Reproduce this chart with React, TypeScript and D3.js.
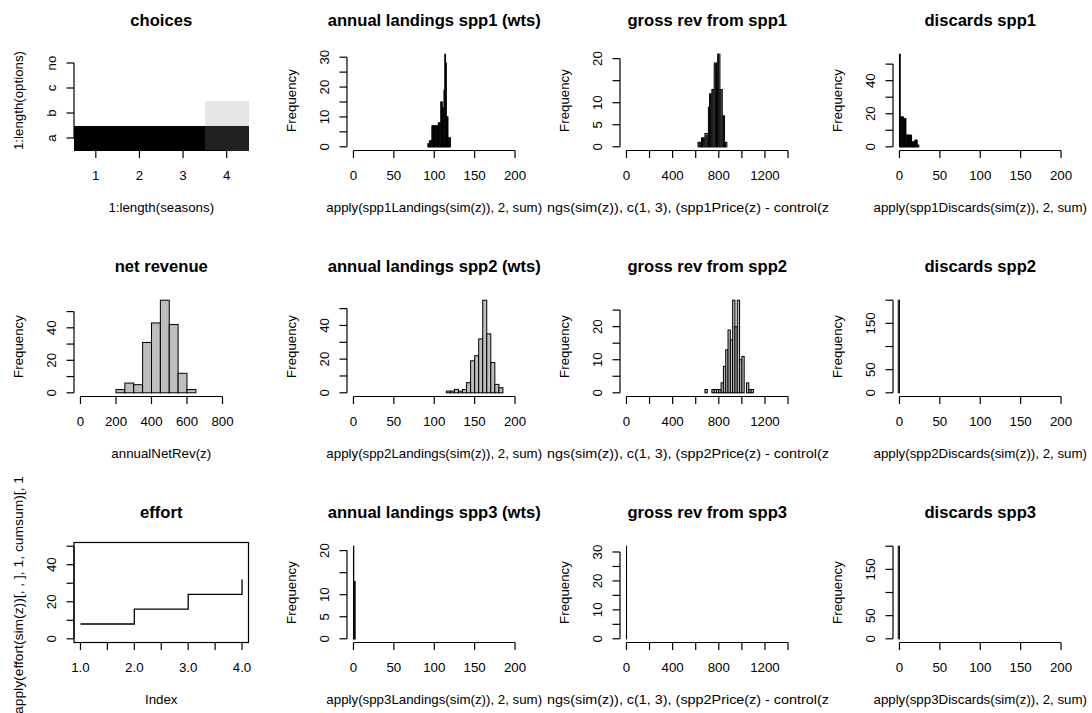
import React from "react";
import * as d3 from "d3";

// ---- data ----
const seasons = [1, 2, 3, 4];
const options = ["a", "b", "c", "no"];
// share choosing each option (a, b, c, no) in each season
const choiceShare = [
  [1, 0, 0, 0],
  [1, 0, 0, 0],
  [1, 0, 0, 0],
  [0.87, 0.1, 0, 0],
];

const effortIndex = [1, 2, 3, 4];
const effortCum = [8, 16, 24, 32];

const spp1LandBreaks = d3.range(92, 120.5, 1);
const spp1LandCounts = [1, 1, 2, 2, 2, 7, 7, 7, 7, 7, 7, 7, 7, 8, 8, 8, 15, 15, 13, 13, 19, 31, 28, 10, 10, 3, 3, 3];

const spp1RevBreaks = d3.range(620, 871, 10);
const spp1RevCounts = [1, 1, 1, 2, 2, 2, 3, 3, 3, 9, 12, 12, 13, 13, 19, 19, 17, 21, 21, 13, 13, 7, 7, 1, 1];

const spp1DiscBreaks = d3.range(0, 24.5, 1);
const spp1DiscCounts = [56, 18, 18, 18, 18, 17, 17, 17, 7, 7, 7, 7, 7, 7, 7, 3, 3, 3, 3, 4, 4, 4, 1, 1];

const netRevBreaks = d3.range(200, 651, 50);
const netRevCounts = [2, 6, 5, 31, 43, 57, 42, 12, 2];

const spp2LandBreaks = d3.range(115, 186, 5);
const spp2LandCounts = [1, 1, 2, 1, 2, 6, 19, 22, 32, 55, 35, 18, 5, 3];

const spp2RevBreaks = d3.range(680, 1101, 20);
const spp2RevCounts = [1, 0, 0, 1, 1, 1, 1, 3, 8, 13, 19, 16, 28, 20, 28, 10, 11, 0, 3, 1, 1];

const spp2DiscBreaks = [-1.5, 0];
const spp2DiscCounts = [200];

const spp3LandBreaks = [0, 0.4, 0.8, 1.2, 1.6, 2.0];
const spp3LandCounts = [21, 13, 13, 13, 13];

const spp3RevBreaks = [0, 0.8];
const spp3RevCounts = [32];

const spp3DiscBreaks = [-1.5, 0];
const spp3DiscCounts = [200];

const landTicks = [0, 50, 100, 150, 200];
const revTicks = d3.range(0, 1401, 200);
const revLabels = [0, 400, 800, 1200];
const netRevTicks = d3.range(0, 801, 200);

// ---- layout ----
const W = 1092;
const H = 713;
const COL_W = 273;
const ROW_H = 246;
const PL = 74;
const PR = 248.5;
const PT = 50.5;
const PB = 150.5;
const CX = (PL + PR) / 2;
const FONT = "'Liberation Sans', Arial, Helvetica, sans-serif";
const FS = 13.3;
const TICK = 7.5;

function pad([lo, hi]: number[]) {
  const d = (hi - lo) * 0.04;
  return [lo - d, hi + d];
}

function XAxis({ x, ticks, labels }: any) {
  const lab = labels ?? ticks;
  return (
    <g>
      <line x1={x(ticks[0])} x2={x(ticks[ticks.length - 1])} y1={PB} y2={PB} stroke="#000" strokeWidth={1.2} />
      {ticks.map((t: number) => (
        <line key={t} x1={x(t)} x2={x(t)} y1={PB} y2={PB + TICK} stroke="#000" strokeWidth={1.2} />
      ))}
      {lab.map((t: any, i: number) => (
        <text key={i} x={x(typeof t === "number" ? t : ticks[i])} y={PB + 24.5} fontSize={FS}
          textAnchor="middle" dominantBaseline="central">{t}</text>
      ))}
    </g>
  );
}

function YAxis({ y, ticks, labels, names }: any) {
  return (
    <g>
      <line x1={PL} x2={PL} y1={y(ticks[0])} y2={y(ticks[ticks.length - 1])} stroke="#000" strokeWidth={1.2} />
      {ticks.map((t: number) => (
        <line key={t} x1={PL} x2={PL - TICK} y1={y(t)} y2={y(t)} stroke="#000" strokeWidth={1.2} />
      ))}
      {labels.map((t: number, i: number) => (
        <text key={i} transform={`translate(${PL - 23},${y(t)}) rotate(-90)`} fontSize={FS}
          textAnchor="middle" dominantBaseline="central">{names ? names[i] : t}</text>
      ))}
    </g>
  );
}

function Titles({ main, xlab, ylab, xlabStart, ylabShift, ylabLen }: any) {
  return (
    <g>
      <text x={CX} y={PT - 30} fontSize={16.6} fontWeight="bold" textAnchor="middle" dominantBaseline="central">{main}</text>
      {xlabStart ? (
        <text x={1} y={PB + 56.5} fontSize={FS} textAnchor="start" dominantBaseline="central"
          textLength={282} lengthAdjust="spacingAndGlyphs">{xlab}</text>
      ) : (
        <text x={CX} y={PB + 56.5} fontSize={FS} textAnchor="middle" dominantBaseline="central">{xlab}</text>
      )}
      <text transform={`translate(18.5,${(PT + PB) / 2 + (ylabShift || 0)}) rotate(-90)`} fontSize={FS}
        textAnchor="middle" dominantBaseline="central"
        {...(ylabLen ? { textLength: ylabLen, lengthAdjust: "spacingAndGlyphs" } : {})}>{ylab}</text>
    </g>
  );
}

function Hist({ cfg }: any) {
  const x = d3.scaleLinear().domain(pad(cfg.xlim)).range([PL, PR]);
  const y = d3.scaleLinear().domain(pad([0, d3.max(cfg.counts as number[])!])).range([PB, PT]);
  return (
    <g>
      {cfg.counts.map((c: number, i: number) => (
        c > 0 ? (
          <rect key={i} x={x(cfg.breaks[i])} y={y(c)} width={x(cfg.breaks[i + 1]) - x(cfg.breaks[i])}
            height={y(0) - y(c)} fill="#bebebe" stroke="#000" strokeWidth={1} />
        ) : null
      ))}
      <XAxis x={x} ticks={cfg.xTicks} labels={cfg.xLabels} />
      <YAxis y={y} ticks={cfg.yTicks} labels={cfg.yLabels} />
      <Titles main={cfg.main} xlab={cfg.xlab} ylab="Frequency" xlabStart={cfg.xlabStart} />
    </g>
  );
}

function Choices() {
  const x = d3.scaleLinear().domain([0.5, 4.5]).range([PL, PR]);
  const y = d3.scaleLinear().domain([0.5, 4.5]).range([PB, PT]);
  const shade = d3.scaleLinear<string>().domain([0, 1]).range(["#ffffff", "#000000"]);
  return (
    <g>
      <g shapeRendering="crispEdges">
        {seasons.map((s, i) =>
          options.map((o, j) => (
            <rect key={o + s} x={x(s - 0.5)} y={y(j + 1.5)} width={x(s + 0.5) - x(s - 0.5) + 0.5}
              height={y(j + 0.5) - y(j + 1.5)} fill={shade(choiceShare[i][j])} />
          ))
        )}
      </g>
      <XAxis x={x} ticks={seasons} />
      <YAxis y={y} ticks={[1, 2, 3, 4]} labels={[1, 2, 3, 4]} names={options} />
      <Titles main="choices" xlab="1:length(seasons)" ylab="1:length(options)" />
    </g>
  );
}

function Effort() {
  const x = d3.scaleLinear().domain(pad([1, 4])).range([PL, PR]);
  const y = d3.scaleLinear().domain(pad([0, 50])).range([PB, PT]);
  const pts = effortIndex.map((v, i) => [v, effortCum[i]] as [number, number]);
  // R's type "s": horizontal first, then vertical
  const stepPts: [number, number][] = [];
  pts.forEach((p, i) => {
    if (i > 0) stepPts.push([p[0], pts[i - 1][1]]);
    stepPts.push(p);
  });
  return (
    <g>
      <path d={d3.line().x((d) => x(d[0])).y((d) => y(d[1]))(stepPts)!} fill="none" stroke="#000" strokeWidth={1.3} />
      <rect x={PL} y={PT} width={PR - PL} height={PB - PT} fill="none" stroke="#000" strokeWidth={1.2} />
      <XAxis x={x} ticks={d3.range(1, 4.01, 0.5)} labels={["1.0", "", "2.0", "", "3.0", "", "4.0"]} />
      <YAxis y={y} ticks={d3.range(0, 51, 10)} labels={[0, 20, 40]} />
      <Titles main="effort" xlab="Index" ylab="apply(effort(sim(z))[, , ], 1, cumsum)[, 1" ylabShift={2.5} ylabLen={238} />
    </g>
  );
}

const hists: any[] = [
  { row: 0, col: 1, main: "annual landings spp1 (wts)", xlab: "apply(spp1Landings(sim(z)), 2, sum)",
    breaks: spp1LandBreaks, counts: spp1LandCounts, xlim: [0, 200], xTicks: landTicks,
    yTicks: d3.range(0, 31, 5), yLabels: [0, 10, 20, 30] },
  { row: 0, col: 2, main: "gross rev from spp1", xlab: "ngs(sim(z)), c(1, 3), (spp1Price(z) - control(z", xlabStart: true,
    breaks: spp1RevBreaks, counts: spp1RevCounts, xlim: [0, 1400], xTicks: revTicks, xLabels: revLabels,
    yTicks: d3.range(0, 21, 5), yLabels: [0, 5, 10, 20] },
  { row: 0, col: 3, main: "discards spp1", xlab: "apply(spp1Discards(sim(z)), 2, sum)",
    breaks: spp1DiscBreaks, counts: spp1DiscCounts, xlim: [0, 200], xTicks: landTicks,
    yTicks: d3.range(0, 51, 10), yLabels: [0, 20, 40] },
  { row: 1, col: 0, main: "net revenue", xlab: "annualNetRev(z)",
    breaks: netRevBreaks, counts: netRevCounts, xlim: [0, 910], xTicks: netRevTicks,
    yTicks: d3.range(0, 51, 10), yLabels: [0, 20, 40] },
  { row: 1, col: 1, main: "annual landings spp2 (wts)", xlab: "apply(spp2Landings(sim(z)), 2, sum)",
    breaks: spp2LandBreaks, counts: spp2LandCounts, xlim: [0, 200], xTicks: landTicks,
    yTicks: d3.range(0, 51, 10), yLabels: [0, 20, 40] },
  { row: 1, col: 2, main: "gross rev from spp2", xlab: "ngs(sim(z)), c(1, 3), (spp2Price(z) - control(z", xlabStart: true,
    breaks: spp2RevBreaks, counts: spp2RevCounts, xlim: [0, 1400], xTicks: revTicks, xLabels: revLabels,
    yTicks: d3.range(0, 26, 5), yLabels: [0, 10, 20] },
  { row: 1, col: 3, main: "discards spp2", xlab: "apply(spp2Discards(sim(z)), 2, sum)",
    breaks: spp2DiscBreaks, counts: spp2DiscCounts, xlim: [0, 200], xTicks: landTicks,
    yTicks: d3.range(0, 201, 50), yLabels: [0, 50, 150] },
  { row: 2, col: 1, main: "annual landings spp3 (wts)", xlab: "apply(spp3Landings(sim(z)), 2, sum)",
    breaks: spp3LandBreaks, counts: spp3LandCounts, xlim: [0, 200], xTicks: landTicks,
    yTicks: d3.range(0, 21, 5), yLabels: [0, 5, 10, 20] },
  { row: 2, col: 2, main: "gross rev from spp3", xlab: "ngs(sim(z)), c(1, 3), (spp2Price(z) - control(z", xlabStart: true,
    breaks: spp3RevBreaks, counts: spp3RevCounts, xlim: [0, 1400], xTicks: revTicks, xLabels: revLabels,
    yTicks: d3.range(0, 31, 5), yLabels: [0, 10, 20, 30] },
  { row: 2, col: 3, main: "discards spp3", xlab: "apply(spp3Discards(sim(z)), 2, sum)",
    breaks: spp3DiscBreaks, counts: spp3DiscCounts, xlim: [0, 200], xTicks: landTicks,
    yTicks: d3.range(0, 201, 50), yLabels: [0, 50, 150] },
];

export default function App() {
  return (
    <div style={{ position: "absolute", left: 0, top: 0 }}>
      <svg width={W} height={H} fontFamily={FONT} style={{ display: "block", background: "#fff" }}>
        <g transform="translate(0,0)"><Choices /></g>
        <g transform={`translate(0,${2 * ROW_H})`}><Effort /></g>
        {hists.map((h, i) => (
          <g key={i} transform={`translate(${h.col * COL_W},${h.row * ROW_H})`}>
            <Hist cfg={h} />
          </g>
        ))}
      </svg>
    </div>
  );
}
